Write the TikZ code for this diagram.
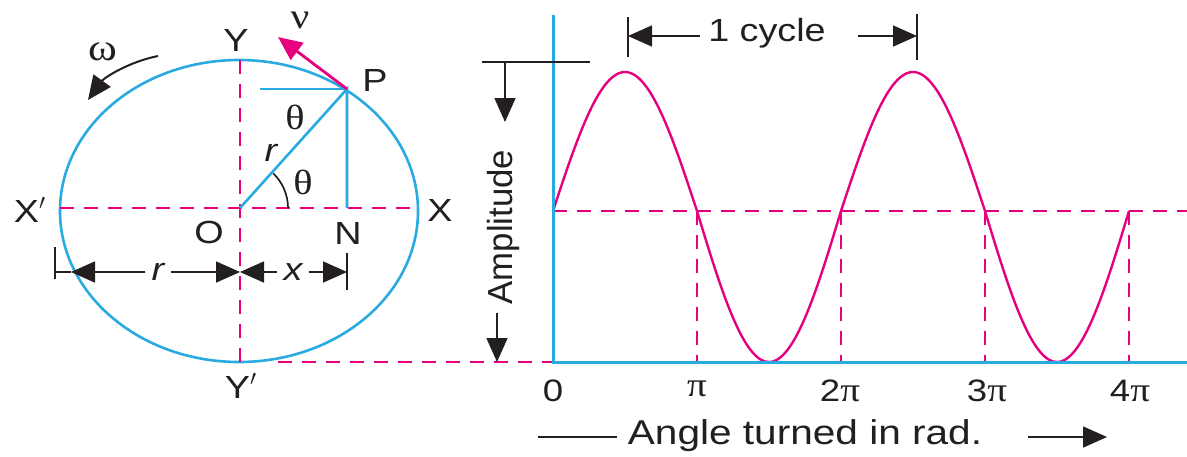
\documentclass[tikz,border=0pt]{standalone}
\usepackage{fontspec}
\setmainfont{Liberation Sans}[FakeStretch=1.18]
\newfontfamily\plainsans{Liberation Sans}
\newfontfamily\gr{Liberation Serif}[FakeStretch=1.15]
\usetikzlibrary{arrows.meta}
\definecolor{cblue}{RGB}{41,171,226}
\definecolor{cpink}{RGB}{230,0,126}
\definecolor{cink}{RGB}{35,31,32}
\begin{document}
\begin{tikzpicture}[x=0.5pt,y=-0.5pt,
  lbl/.style={font=\fontsize{16}{18}\selectfont, text=cink, inner sep=0pt},
  glbl/.style={font=\gr\fontsize{17.5}{18}\selectfont, text=cink, inner sep=0pt},
  dimlbl/.style={font=\fontsize{16}{18}\selectfont\itshape, text=cink, inner sep=3pt},
  bl/.style={draw=cblue, line width=1.3pt},
  dsh/.style={draw=cpink, line width=1pt, dash pattern=on 7pt off 5pt},
  sine/.style={draw=cpink, line width=1.2pt},
  ink/.style={draw=cink, line width=0.85pt},
  tip/.style={-{Triangle[length=12pt,width=10.5pt]}},
]
\useasboundingbox (0,0) rectangle (1187,456);
\fill[white] (0,0) rectangle (1187,456);
% ---------- circle part ----------
\coordinate (C) at (239,211);
\coordinate (O) at (240,208);
\coordinate (P) at (347,89);
\coordinate (N) at (347,208);
\coordinate (Xp) at (60,208);
\coordinate (X) at (418,208);
\coordinate (Ytop) at (240,60);
\coordinate (Ybot) at (240,362);
\coordinate (H) at (260,89);
\coordinate (V) at (278,37);
\draw[bl] (C) ellipse [x radius=89.5pt, y radius=75.5pt];
\draw[dsh] (Xp) -- (X);
\draw[dsh] (Ytop) -- (Ybot);
\draw[bl] (O) -- (P) -- (N);
\draw[bl] (H) -- (P);
\draw[ink] ([shift={(0:24pt)}]O) arc[start angle=0, end angle=46, radius=24pt];
\draw[draw=cpink, line width=1.4pt, tip] (P) -- (V);
\coordinate (w1) at (158,56);
\coordinate (w2) at (88,100);
\draw[ink, line width=1pt, tip] (w1) .. controls (128,62) and (104,78) .. (w2);
% labels
\node[lbl] (lY) at (236,40) {Y};
\node[glbl, font=\gr\fontsize{18}{18}\selectfont] (lnu) at (300,20) {ν};
\node[glbl, font=\gr\fontsize{19}{18}\selectfont] (lw) at (103,52) {ω};
\node[lbl] (lP) at (375,80) {P};
\node[glbl] (lth1) at (295,117) {θ};
\node[lbl, font=\fontsize{16}{18}\selectfont\itshape] (lr) at (271,153) {r};
\node[glbl] (lth2) at (303,182) {θ};
\node[lbl] (lXp) at (30,210) {X$'$};
\node[lbl] (lX) at (440,210) {X};
\node[lbl] (lO) at (209,232) {O};
\node[lbl] (lN) at (348,233) {N};
\node[lbl] (lYp) at (241,386) {Y$'$};
% dimension r, x
\coordinate (dL) at (55,272);
\coordinate (dLa) at (71,272);
\coordinate (dM) at (240,272);
\coordinate (dR) at (347,272);
\draw[ink] ([yshift=12.5pt]dL) -- ([yshift=-3.5pt]dL);
\draw[ink] ([yshift=9.5pt]dR) -- ([yshift=-9pt]dR);
\draw[ink] (dL) -- (dLa);
\node[dimlbl] (dr) at (158,272) {r};
\node[dimlbl] (dx) at (293,272) {x};
\draw[ink, tip] (dr.west) -- (dLa);
\draw[ink, tip] (dr.east) -- (dM);
\draw[ink, tip] (dx.west) -- (dM);
\draw[ink, tip] (dx.east) -- (dR);
% link dashed line
\coordinate (B1) at (278,362);
\coordinate (G00) at (553,362);
\draw[dsh] (B1) -- (G00);
% ---------- graph ----------
\coordinate (G0) at (553,211);
\coordinate (Atop) at (553,15);
\coordinate (Aend) at (1187,362);
\coordinate (Bend) at (1187,211);
\draw[dsh] (G0) -- (Bend);
\foreach \k in {1,2,3,4}{
  \draw[dsh] (553+144*\k,211) -- (553+144*\k,362);
}
\draw[sine] plot[domain=0:576, samples=289, smooth]
  ({553+\x}, {211 - (sin(\x*1.25) > 0 ? 139 : 151)*sin(\x*1.25)});
\draw[draw=cblue, line width=1.5pt] (Atop) -- (G00) -- (Aend);
% 1 cycle
\coordinate (c1) at (628,36);
\coordinate (c2) at (917,36);
\draw[ink] (628,17) -- (628,57);
\draw[ink] (917,14) -- (917,60);
\node[lbl, font=\fontsize{16}{18}\selectfont, inner sep=4pt] (cyc) at (767,33) {1 cycle};
\coordinate (c2s) at (858,36);
\draw[ink, tip] (cyc.west |- c1) -- (c1);
\draw[ink, tip] (c2s) -- (c2);
% amplitude
\coordinate (a1) at (482,62);
\coordinate (a2) at (590,62);
\coordinate (a3) at (505,62);
\coordinate (a4) at (505,122);
\coordinate (a5) at (497,313);
\coordinate (a6) at (497,362);
\draw[ink] (a1) -- (a2);
\draw[ink, tip] (a3) -- (a4);
\draw[ink, tip] (a5) -- (a6);
\node[font=\plainsans\fontsize{17.4}{18}\selectfont, text=cink, inner sep=0pt, rotate=90] (amp) at (503,227) {Amplitude};
% axis labels
\node[lbl, font=\fontsize{15.5}{16}\selectfont] (t0) at (553,391) {0};
\node[glbl, font=\gr\fontsize{17}{18}\selectfont] (t1) at (697,389) {π};
\node[lbl, font=\fontsize{15.5}{16}\selectfont] (t2) at (840,391) {2{\gr\fontsize{17}{18}\selectfont π}};
\node[lbl, font=\fontsize{15.5}{16}\selectfont] (t3) at (987,391) {3{\gr\fontsize{17}{18}\selectfont π}};
\node[lbl, font=\fontsize{15.5}{16}\selectfont] (t4) at (1130,391) {4{\gr\fontsize{17}{18}\selectfont π}};
\node[lbl, font=\fontsize{17.2}{18}\selectfont] (ang) at (805,436) {Angle turned in rad.};
\coordinate (l1) at (538,437);
\coordinate (l2) at (617,437);
\coordinate (r1) at (1028,437);
\coordinate (r2) at (1107,437);
\draw[ink] (l1) -- (l2);
\draw[ink, tip] (r1) -- (r2);
\end{tikzpicture}
\end{document}
